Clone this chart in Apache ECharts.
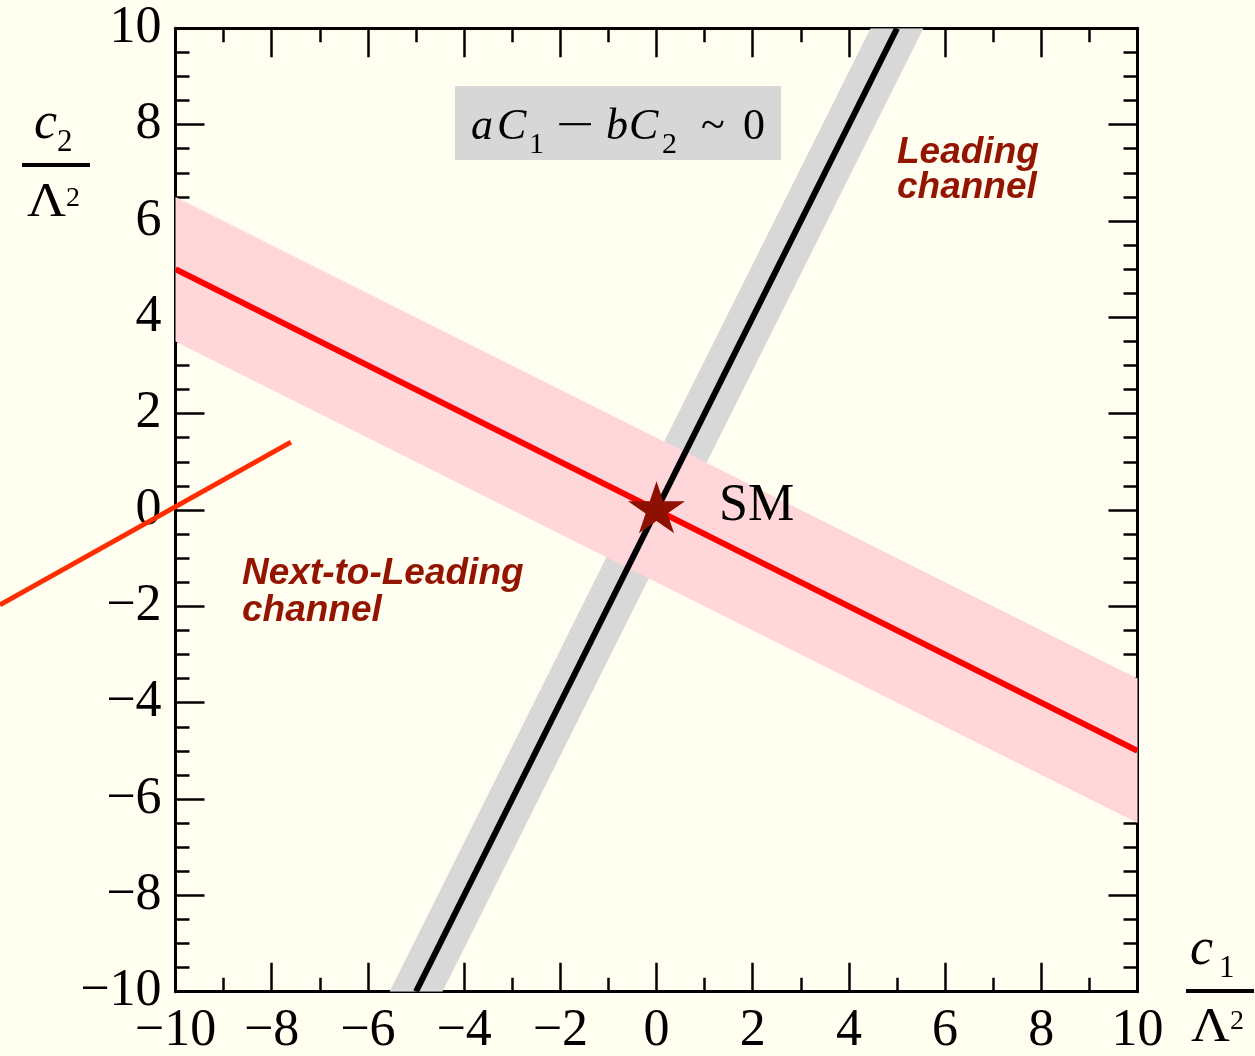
<!DOCTYPE html>
<html><head><meta charset="utf-8">
<script src="https://cdn.jsdelivr.net/npm/echarts@6/dist/echarts.min.js"></script>
<style>html,body{margin:0;padding:0;background:#fffef0;} #chart{width:1255px;height:1056px;}</style>
</head><body><div id="chart"></div>
<script>
// ---- axis settings ----
const AXIS_MIN = -10, AXIS_MAX = 10, MAJOR_STEP = 2;
// ---- data (c1/Λ², c2/Λ²) ----
const leadingBandC1 = [-5.55, -4.45, 5.55, 4.45];
const leadingBandC2 = [-10, -10, 10, 10];
const nloBandC1 = [-10, 10, 10, -10];
const nloBandC2 = [6.5, -3.5, -6.5, 3.5];
const leadingLineC1 = [-5, 5];
const leadingLineC2 = [-10, 10];
const nloLineC1 = [-10, 10];
const nloLineC2 = [5, -5];
const pointerC1 = [-13.65, -7.6];
const pointerC2 = [-1.97, 1.41];
const smC1 = [0];
const smC2 = [0];
const smLabel = 'SM';
const leadingText = 'Leading\nchannel';
const nloText = 'Next-to-Leading\nchannel';

const zip = (a, b) => a.map((v, i) => [v, b[i]]);
const SERIF = 'Liberation Serif';
const SANS = 'Liberation Sans';
const fmt = v => (v < 0 ? '\u2212' + Math.abs(v) : String(v));

function bandSeries(c1, c2, color) {
  return {
    type: 'custom', clip: true, silent: true,
    data: zip(c1, c2), encode: { x: 0, y: 1 },
    renderItem: (params, api) => {
      if (params.dataIndex !== 0) return null;
      const pts = c1.map((v, i) => api.coord([v, c2[i]]));
      return { type: 'polygon', shape: { points: pts }, style: { fill: color } };
    }
  };
}
function polySeries(c1, c2, color, width, clip) {
  return {
    type: 'custom', clip: clip, silent: true,
    data: zip(c1, c2), encode: { x: 0, y: 1 },
    renderItem: (params, api) => {
      if (params.dataIndex !== 0) return null;
      const pts = c1.map((v, i) => api.coord([v, c2[i]]));
      return { type: 'polyline', shape: { points: pts }, style: { stroke: color, lineWidth: width, fill: null } };
    }
  };
}
function axisCfg(position, showLabel, minorSplit) {
  return {
    type: 'value', min: AXIS_MIN, max: AXIS_MAX, interval: MAJOR_STEP, position: position,
    axisLine: { onZero: false, lineStyle: { color: '#000', width: 3 } },
    axisTick: { inside: true, length: 29, lineStyle: { color: '#000', width: 2.5 } },
    minorTick: { show: true, splitNumber: minorSplit, length: 14, lineStyle: { color: '#000', width: 2.5 } },
    splitLine: { show: false }, minorSplitLine: { show: false },
    axisLabel: {
      show: showLabel, formatter: fmt, fontFamily: SERIF, fontSize: 52, color: '#000',
      margin: 14, showMinLabel: true, showMaxLabel: true
    }
  };
}
// text placed by baseline of its first line
function T(text, x, baseline, fs, o) {
  o = o || {};
  const fam = o.family || SERIF;
  const k = fam === SANS ? 0.3465 : 0.3375;
  const nLines = text.split('\n').length;
  const lh = o.lineHeight || fs;
  const el = {
    type: 'text', x: x, y: baseline - k * fs + (nLines - 1) * lh / 2, z: 100,
    style: {
      text: text, fontFamily: fam, fontSize: fs, fontStyle: o.italic ? 'italic' : 'normal',
      fontWeight: o.bold ? 'bold' : 'normal', fill: o.color || '#000',
      align: 'left', textAlign: 'left', verticalAlign: 'middle', textVerticalAlign: 'middle',
      lineHeight: lh
    }
  };
  if (o.scaleX) el.scaleX = o.scaleX;
  return el;
}

const STAR = 'path://M50,0 L61.23,34.55 L97.55,34.55 L68.17,55.9 L79.39,90.45 L50,69.1 L20.61,90.45 L31.83,55.9 L2.45,34.55 L38.77,34.55 Z';

const chart = echarts.init(document.getElementById('chart'), null, { renderer: 'canvas' });
chart.setOption({
  animation: false,
  backgroundColor: '#fffef0',
  grid: { left: 175.5, right: 117.5, top: 28.3, bottom: 64.3, containLabel: false, outerBoundsMode: 'none' },
  xAxis: [axisCfg('bottom', true, 2), axisCfg('top', false, 2)],
  yAxis: [axisCfg('left', true, 4), axisCfg('right', false, 4)],
  series: [
    bandSeries(leadingBandC1, leadingBandC2, '#d8d8d8'),
    bandSeries(nloBandC1, nloBandC2, '#ffd7da'),
    polySeries(nloLineC1, nloLineC2, '#ff0000', 6, true),
    polySeries(leadingLineC1, leadingLineC2, '#000000', 6, true),
    polySeries(pointerC1, pointerC2, '#ff2d00', 5, false),
    {
      type: 'scatter', data: zip(smC1, smC2), symbol: STAR, symbolSize: [57, 52], symbolOffset: [0, -2.7],
      itemStyle: { color: '#8e1000', opacity: 1 }, z: 10, silent: true,
      label: { show: true, formatter: smLabel, position: 'right', distance: 34, offset: [0, -1],
        fontFamily: SERIF, fontSize: 52, color: '#000', opacity: 1 }
    }
  ],
  graphic: [
    // formula box
    { type: 'rect', shape: { x: 455, y: 86, width: 326, height: 74 }, style: { fill: '#d7d7d7' }, z: 90 },
    T('a', 471, 142, 44, { italic: true }),
    T('C', 497, 142, 44, { italic: true }),
    T('1', 529, 155, 30),
    T('\u2212', 556, 142, 44, { scaleX: 1.55 }),
    T('b', 606, 142, 44, { italic: true }),
    T('C', 629, 142, 44, { italic: true }),
    T('2', 662, 155, 30),
    T('~', 701, 142, 44),
    T('0', 743, 142, 44),
    // channel labels
    T(leadingText, 897, 166, 37, { family: SANS, bold: true, italic: true, color: '#931500', lineHeight: 35 }),
    T(nloText, 242, 587, 37, { family: SANS, bold: true, italic: true, color: '#931500', lineHeight: 37 }),
    // y title
    T('c', 34, 142, 52, { italic: true }),
    T('2', 57, 153, 31),
    { type: 'rect', shape: { x: 22, y: 163, width: 68, height: 4 }, style: { fill: '#000' }, z: 100 },
    T('\u039B', 27, 220, 48, { scaleX: 1.12 }),
    T('2', 66, 208, 28),
    // x title
    T('c', 1190, 968, 52, { italic: true }),
    T('1', 1219, 979, 31),
    { type: 'rect', shape: { x: 1186, y: 989, width: 68, height: 4 }, style: { fill: '#000' }, z: 100 },
    T('\u039B', 1191, 1045, 48, { scaleX: 1.12 }),
    T('2', 1230, 1031, 28)
  ]
});
</script></body></html>
